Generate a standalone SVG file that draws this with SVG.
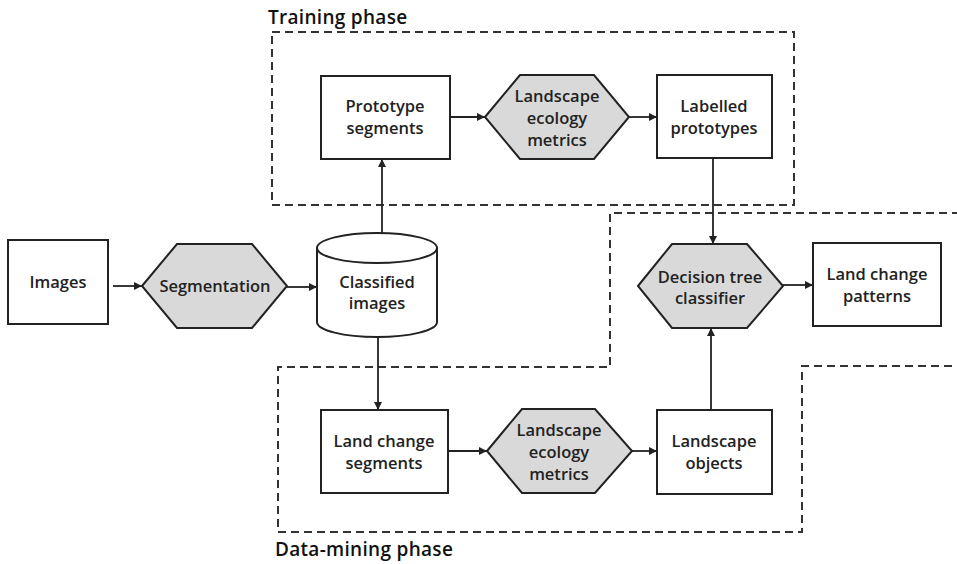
<svg xmlns="http://www.w3.org/2000/svg" width="957" height="564" viewBox="0 0 957 564">
<style>
.box{fill:#fff;stroke:#222;stroke-width:2}
.hex{fill:#d9d9d9;stroke:#222;stroke-width:2}
.t{font-family:"Open Sans","Noto Sans",sans-serif;font-size:16.5px;font-weight:600;fill:#222;text-anchor:middle}
.title{font-family:"Open Sans","Noto Sans",sans-serif;font-size:19px;font-weight:600;fill:#111;letter-spacing:0.3px}
.phase{fill:none;stroke:#333;stroke-width:2;stroke-dasharray:8 5}
.c{fill:none;stroke:#222;stroke-width:1.8;marker-end:url(#ah)}
</style>
<defs>
<marker id="ah" viewBox="0 0 10 10" refX="10" refY="5" markerWidth="9" markerHeight="8" markerUnits="userSpaceOnUse" orient="auto">
<path d="M0,0 L10,5 L0,10 z" fill="#222"/>
</marker>
</defs>
<rect width="957" height="564" fill="#fff"/>
<g id="phases">
<rect class="phase" x="272" y="32" width="522" height="173"/>
<path class="phase" d="M960 213 H610 V367 H278 V532 H802 V366 H960"/>
<text class="title" x="268" y="24">Training phase</text>
<text class="title" x="275" y="556">Data-mining phase</text>
</g>
<g id="connectors">
<line class="c" x1="113" y1="286" x2="142" y2="286"/>
<line class="c" x1="287" y1="287" x2="317" y2="287"/>
<line class="c" x1="382" y1="233" x2="382" y2="159"/>
<line class="c" x1="378" y1="337" x2="378" y2="410"/>
<line class="c" x1="450" y1="117" x2="485" y2="117"/>
<line class="c" x1="629" y1="117" x2="657" y2="117"/>
<line class="c" x1="448" y1="451" x2="487" y2="451"/>
<line class="c" x1="632" y1="451" x2="657" y2="451"/>
<line class="c" x1="713" y1="158" x2="713" y2="244"/>
<line class="c" x1="711" y1="410" x2="711" y2="328"/>
<line class="c" x1="783" y1="285" x2="813" y2="285"/>
</g>
<g id="images">
<rect class="box" x="8" y="240" width="100" height="84"/>
<text class="t" x="58" y="288">Images</text>
</g>
<g id="segmentation">
<polygon class="hex" points="142,286 177,244 252,244 287,286 252,328 177,328"/>
<text class="t" x="215" y="292">Segmentation</text>
</g>
<g id="classified">
<path class="box" d="M317,248 V322 A60,15 0 0 0 437,322 V248"/>
<ellipse class="box" cx="377" cy="248" rx="60" ry="15"/>
<text class="t" x="377" y="288">Classified</text>
<text class="t" x="377" y="309">images</text>
</g>
<g id="prototype">
<rect class="box" x="321" y="76" width="129" height="83"/>
<text class="t" x="385" y="112">Prototype</text>
<text class="t" x="385" y="134">segments</text>
</g>
<g id="metrics1">
<polygon class="hex" points="485,117 520,75 594,75 629,117 594,159 520,159"/>
<text class="t" x="557" y="102">Landscape</text>
<text class="t" x="557" y="124">ecology</text>
<text class="t" x="557" y="146">metrics</text>
</g>
<g id="labelled">
<rect class="box" x="657" y="75" width="115" height="83"/>
<text class="t" x="714" y="112">Labelled</text>
<text class="t" x="714" y="134">prototypes</text>
</g>
<g id="decision">
<polygon class="hex" points="638,286 672,244 747,244 783,286 747,328 672,328"/>
<text class="t" x="710" y="283">Decision tree</text>
<text class="t" x="710" y="304">classifier</text>
</g>
<g id="patterns">
<rect class="box" x="813" y="243" width="128" height="83"/>
<text class="t" x="877" y="280">Land change</text>
<text class="t" x="877" y="302">patterns</text>
</g>
<g id="landchange">
<rect class="box" x="321" y="410" width="127" height="83"/>
<text class="t" x="384" y="447">Land change</text>
<text class="t" x="384" y="469">segments</text>
</g>
<g id="metrics2">
<polygon class="hex" points="487,451 522,409 595,409 632,451 595,493 522,493"/>
<text class="t" x="559" y="436">Landscape</text>
<text class="t" x="559" y="458">ecology</text>
<text class="t" x="559" y="480">metrics</text>
</g>
<g id="objects">
<rect class="box" x="657" y="410" width="115" height="84"/>
<text class="t" x="714" y="447">Landscape</text>
<text class="t" x="714" y="469">objects</text>
</g>
</svg>
